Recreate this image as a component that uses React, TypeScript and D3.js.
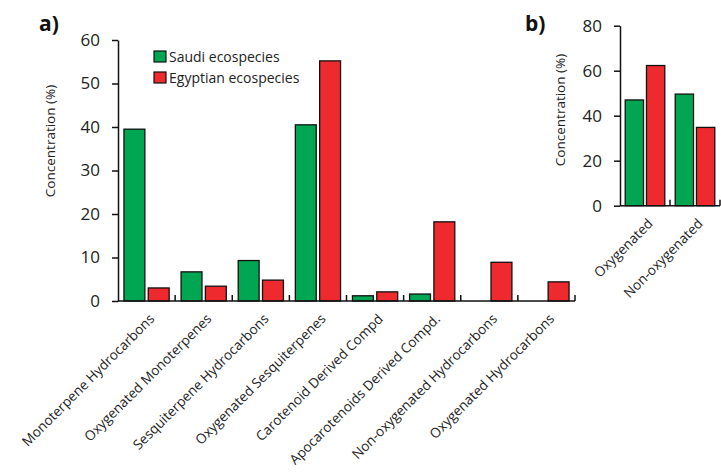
import React, { useEffect, useRef } from 'react';
import * as d3 from 'd3';

const categoriesA = [
  'Monoterpene Hydrocarbons',
  'Oxygenated Monoterpenes',
  'Sesquiterpene Hydrocarbons',
  'Oxygenated Sesquiterpenes',
  'Carotenoid Derived Compd',
  'Apocarotenoids Derived Compd.',
  'Non-oxygenated Hydrocarbons',
  'Oxygenated Hydrocarbons',
];
const saudiA = [39.5, 6.7, 9.3, 40.5, 1.2, 1.6, 0, 0];
const egyptA = [3.0, 3.4, 4.8, 55.2, 2.1, 18.2, 8.9, 4.4];
const ticksA = [0, 10, 20, 30, 40, 50, 60];

const categoriesB = ['Oxygenated', 'Non-oxygenated'];
const saudiB = [47.0, 49.6];
const egyptB = [62.3, 34.8];
const ticksB = [0, 20, 40, 60, 80];

const seriesNames = ['Saudi ecospecies', 'Egyptian ecospecies'];
const GREEN = '#00a651';
const RED = '#ee2a2f';
const FONT = '"Open Sans", sans-serif';

const App = () => {
  const svgRef = useRef<SVGSVGElement>(null);

  useEffect(() => {
    const svg = d3.select(svgRef.current);
    svg.selectAll('*').remove();

    const panel = (opts: {
      cats: string[];
      s1: number[];
      s2: number[];
      ticks: number[];
      x0: number;
      x1: number;
      yTop: number;
      yBot: number;
      max: number;
      titleX: number;
      titleY: number;
    }) => {
      const g = svg.append('g');
      const x = d3.scaleBand().domain(opts.cats).range([opts.x0, opts.x1]);
      const inner = d3
        .scaleBand()
        .domain(['s1', 's2'])
        .range([0, x.bandwidth()])
        .paddingInner(0.14)
        .paddingOuter(0.245);
      const y = d3.scaleLinear().domain([0, opts.max]).range([opts.yBot, opts.yTop]);

      // bars
      opts.cats.forEach((c, i) => {
        [
          { k: 's1', v: opts.s1[i], col: GREEN },
          { k: 's2', v: opts.s2[i], col: RED },
        ].forEach((d) => {
          if (d.v <= 0) return;
          g.append('rect')
            .attr('x', (x(c) as number) + (inner(d.k) as number))
            .attr('y', y(d.v))
            .attr('width', inner.bandwidth())
            .attr('height', y(0) - y(d.v))
            .attr('fill', d.col)
            .attr('stroke', '#111')
            .attr('stroke-width', 1.3);
        });
      });

      // y axis
      const yAxis = g
        .append('g')
        .attr('transform', `translate(${opts.x0},0)`)
        .call(d3.axisLeft(y).tickValues(opts.ticks).tickSize(6).tickSizeOuter(0).tickPadding(12));
      yAxis.select('.domain').attr('stroke', '#111').attr('stroke-width', 1.5);
      yAxis.selectAll('.tick line').attr('stroke', '#111').attr('stroke-width', 1.5);
      yAxis
        .selectAll('.tick text')
        .attr('font-family', FONT)
        .attr('font-size', 17)
        .attr('fill', '#222');

      // x axis line with ticks at category boundaries
      g.append('line')
        .attr('x1', opts.x0)
        .attr('x2', opts.x1)
        .attr('y1', y(0))
        .attr('y2', y(0))
        .attr('stroke', '#111')
        .attr('stroke-width', 1.5);
      opts.cats.forEach((c) => {
        const bx = (x(c) as number) + x.bandwidth();
        g.append('line')
          .attr('x1', bx)
          .attr('x2', bx)
          .attr('y1', y(0))
          .attr('y2', y(0) - 6)
          .attr('stroke', '#111')
          .attr('stroke-width', 1.5);
      });

      // category labels
      opts.cats.forEach((c) => {
        const cx = (x(c) as number) + x.bandwidth() / 2;
        g.append('text')
          .attr('transform', `translate(${cx + 2},${y(0) + 12}) rotate(-45)`)
          .attr('text-anchor', 'end')
          .attr('dy', '0.7em')
          .attr('font-family', FONT)
          .attr('font-size', 13.6)
          .attr('fill', '#222')
          .text(c);
      });

      // y title
      g.append('text')
        .attr('transform', `translate(${opts.titleX},${opts.titleY}) rotate(-90)`)
        .attr('text-anchor', 'middle')
        .attr('dy', '0.35em')
        .attr('font-family', FONT)
        .attr('font-size', 13.5)
        .attr('fill', '#222')
        .text('Concentration (%)');
    };

    panel({
      cats: categoriesA,
      s1: saudiA,
      s2: egyptA,
      ticks: ticksA,
      x0: 118,
      x1: 575,
      yTop: 40,
      yBot: 301,
      max: 60,
      titleX: 50,
      titleY: 141,
    });

    panel({
      cats: categoriesB,
      s1: saudiB,
      s2: egyptB,
      ticks: ticksB,
      x0: 620,
      x1: 720,
      yTop: 25.7,
      yBot: 205.7,
      max: 80,
      titleX: 560,
      titleY: 110,
    });

    // legend
    const leg = svg.append('g').attr('transform', 'translate(154,51)');
    seriesNames.forEach((name, i) => {
      const row = leg.append('g').attr('transform', `translate(0,${i * 21})`);
      row
        .append('rect')
        .attr('width', 12)
        .attr('height', 11)
        .attr('fill', i === 0 ? GREEN : RED)
        .attr('stroke', '#111')
        .attr('stroke-width', 1.2);
      row
        .append('text')
        .attr('x', 15)
        .attr('y', 11)
        .attr('font-family', FONT)
        .attr('font-size', 14)
        .attr('fill', '#222')
        .text(name);
    });

    // panel letters
    [
      { t: 'a)', x: 39, y: 31 },
      { t: 'b)', x: 525, y: 31 },
    ].forEach((d) => {
      svg
        .append('text')
        .attr('x', d.x)
        .attr('y', d.y)
        .attr('font-family', FONT)
        .attr('font-weight', 'bold')
        .attr('font-size', 21)
        .attr('fill', '#111')
        .text(d.t);
    });
  }, []);

  return (
    <svg
      ref={svgRef}
      width={721}
      height={476}
      style={{ position: 'absolute', left: 0, top: 0, background: '#fff' }}
    />
  );
};

export default App;
